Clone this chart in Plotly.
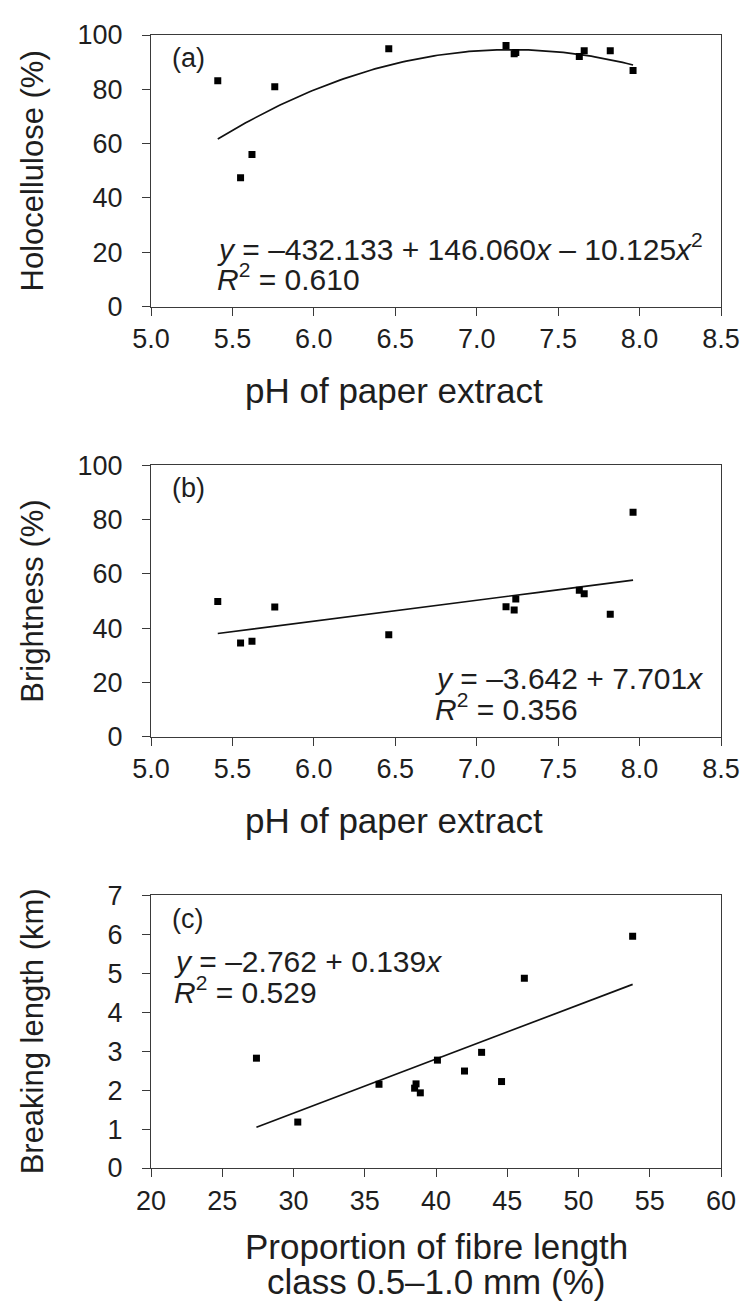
import numpy as np
import plotly.graph_objects as go

# ---- data ----
ph = [5.41, 5.55, 5.62, 5.76, 6.46, 7.18, 7.23, 7.24, 7.63, 7.66, 7.82, 7.96]
holocellulose = [83.2, 47.4, 56.0, 80.9, 94.9, 96.1, 93.1, 93.6, 92.1, 94.2, 94.2, 86.9]
brightness = [49.8, 34.5, 35.2, 47.8, 37.6, 47.9, 46.7, 50.7, 54.0, 52.7, 45.1, 82.7]
fibre_prop = [27.4, 30.3, 36.0, 38.5, 38.6, 38.9, 40.1, 42.0, 43.2, 44.6, 46.2, 53.8]
breaking_len = [2.82, 1.18, 2.15, 2.05, 2.16, 1.93, 2.77, 2.49, 2.97, 2.22, 4.87, 5.95]

holo_coef = [-432.133, 146.060, -10.125]   # c0 + c1 x + c2 x^2
bright_coef = [-3.642, 7.701]
break_coef = [-2.762, 0.139]

ph_ticks = [5.0, 5.5, 6.0, 6.5, 7.0, 7.5, 8.0, 8.5]
pct_ticks = [0, 20, 40, 60, 80, 100]
fibre_ticks = [20, 25, 30, 35, 40, 45, 50, 55, 60]
km_ticks = [0, 1, 2, 3, 4, 5, 6, 7]

FONT = "Liberation Sans, Arial, Helvetica, sans-serif"
TXT = "#1e1e1e"
LINE = "#3a3a3a"


def poly(coef, xs):
    return sum(c * xs ** i for i, c in enumerate(coef))


fig = go.Figure()

panels = [
    (ph, holocellulose, holo_coef, "x", "y"),
    (ph, brightness, bright_coef, "x2", "y2"),
    (fibre_prop, breaking_len, break_coef, "x3", "y3"),
]
for xs, ys, coef, xa, ya in panels:
    xfit = np.linspace(min(xs), max(xs), 120)
    fig.add_trace(go.Scatter(x=xfit, y=poly(coef, xfit), mode="lines",
                             line=dict(color="#111111", width=1.7),
                             xaxis=xa, yaxis=ya, showlegend=False, hoverinfo="skip"))
    fig.add_trace(go.Scatter(x=xs, y=ys, mode="markers",
                             marker=dict(symbol="square", size=7, color="#000000"),
                             xaxis=xa, yaxis=ya, showlegend=False))

axis_common = dict(showgrid=False, zeroline=False, showline=True, linecolor=LINE,
                   linewidth=1.3, mirror=True, ticks="outside", ticklen=8,
                   tickcolor=LINE, tickwidth=1.3,
                   tickfont=dict(family=FONT, size=27, color=TXT))

domains = [[0.7603, 1.0], [0.3806, 0.6203], [0.0, 0.2406]]

# the page body keeps an 8 px margin, so the figure is 8 px smaller on each axis
fig.update_layout(
    width=744, height=1298,
    margin=dict(l=143, r=23, t=17, b=138),
    paper_bgcolor="white", plot_bgcolor="white",
    font=dict(family=FONT, color=TXT),
    xaxis=dict(axis_common, range=[5.0, 8.5], tickvals=ph_ticks, tickformat=".1f",
               anchor="y", ticklabelstandoff=0),
    yaxis=dict(axis_common, range=[0, 100], tickvals=pct_ticks, domain=domains[0],
               anchor="x", ticklabelstandoff=14),
    xaxis2=dict(axis_common, range=[5.0, 8.5], tickvals=ph_ticks, tickformat=".1f",
                anchor="y2", ticklabelstandoff=0),
    yaxis2=dict(axis_common, range=[0, 100], tickvals=pct_ticks, domain=domains[1],
                anchor="x2", ticklabelstandoff=14),
    xaxis3=dict(axis_common, range=[20, 60], tickvals=fibre_ticks,
                anchor="y3", ticklabelstandoff=0),
    yaxis3=dict(axis_common, range=[0, 7], tickvals=km_ticks, domain=domains[2],
                anchor="x3", ticklabelstandoff=14),
)

ann = []


def add(text, xr, yr, x, y, size, xanchor="left", angle=0):
    ann.append(dict(text=text, xref=xr, yref=yr, x=x, y=y, showarrow=False,
                    xanchor=xanchor, yanchor="middle", textangle=angle,
                    font=dict(family=FONT, size=size, color=TXT)))


EQ = 30
# panel labels
add("(a)", "x domain", "y domain", 0.033, 0.916, 27)
add("(b)", "x2 domain", "y2 domain", 0.033, 0.916, 27)
add("(c)", "x3 domain", "y3 domain", 0.033, 0.913, 27)
# equations
add("<i>y</i> = \u2013432.133 + 146.060<i>x</i> \u2013 10.125<i>x</i><sup>2</sup>",
    "x domain", "y domain", 0.1125, 0.218, EQ)
add("<i>R</i><sup>2</sup> = 0.610", "x domain", "y domain", 0.1125, 0.11, EQ)
add("<i>y</i> = \u20133.642 + 7.701<i>x</i>", "x2 domain", "y2 domain", 0.495, 0.215, EQ)
add("<i>R</i><sup>2</sup> = 0.356", "x2 domain", "y2 domain", 0.495, 0.11, EQ)
add("<i>y</i> = \u20132.762 + 0.139<i>x</i>", "x3 domain", "y3 domain", 0.036, 0.759, EQ)
add("<i>R</i><sup>2</sup> = 0.529", "x3 domain", "y3 domain", 0.036, 0.652, EQ)
# axis titles
add("pH of paper extract", "x domain", "y domain", 0.4256, -0.31, 35, "center")
add("pH of paper extract", "x2 domain", "y2 domain", 0.4256, -0.31, 35, "center")
add("Proportion of fibre length", "x3 domain", "y3 domain", 0.5, -0.287, 35, "center")
add("class 0.5\u20131.0 mm (%)", "x3 domain", "y3 domain", 0.5, -0.418, 35, "center")
add("Holocellulose (%)", "x domain", "y domain", -0.2076, 0.5, 31, "center", -90)
add("Brightness (%)", "x2 domain", "y2 domain", -0.2076, 0.5, 31, "center", -90)
add("Breaking length (km)", "x3 domain", "y3 domain", -0.2076, 0.5, 31, "center", -90)

fig.update_layout(annotations=ann)

fig.write_html("out.html")
